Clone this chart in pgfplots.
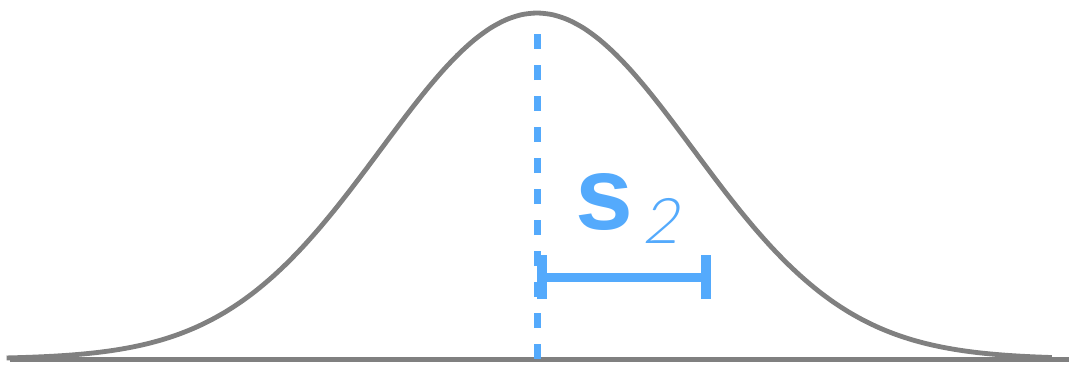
\documentclass[border=0pt]{standalone}
\usepackage{fontspec}
\setmainfont{Liberation Sans}
\newfontfamily\lightfont{Lato Light}[FakeSlant=0.18]
\usepackage{pgfplots}
\pgfplotsset{compat=1.18}
\definecolor{cblue}{RGB}{84,170,252}
\definecolor{cgray}{RGB}{128,128,128}
\begin{document}
\begin{tikzpicture}
\begin{axis}[
  name=ax,
  scale only axis, width=1069pt, height=364pt,
  xmin=-3.442, xmax=3.410, ymin=-0.01445, ymax=1.0376,
  hide axis, clip=false,
]
% baseline
\addplot[cgray, line width=5pt] coordinates {(-3.38,0) (3.41,0)};
% normal curve (sigma units)
\addplot[cgray, line width=4.8pt, smooth] coordinates {
(-3.4,0.00309) (-3.3,0.00432) (-3.2,0.00598) (-3.1,0.00819) (-3.0,0.01111)
(-2.9,0.01492) (-2.8,0.01984) (-2.7,0.02612) (-2.6,0.03405) (-2.5,0.04394)
(-2.4,0.05613) (-2.3,0.07100) (-2.2,0.08892) (-2.1,0.11025) (-2.0,0.13534)
(-1.9,0.16448) (-1.8,0.19790) (-1.7,0.23575) (-1.6,0.27804) (-1.5,0.32465)
(-1.4,0.37531) (-1.3,0.42956) (-1.2,0.48675) (-1.1,0.54607) (-1.0,0.60653)
(-0.9,0.66698) (-0.8,0.72615) (-0.7,0.78270) (-0.6,0.83527) (-0.5,0.88250)
(-0.4,0.92312) (-0.3,0.95600) (-0.2,0.98020) (-0.1,0.99501) (0,1)
(0.1,0.99501) (0.2,0.98020) (0.3,0.95600) (0.4,0.92312) (0.5,0.88250)
(0.6,0.83527) (0.7,0.78270) (0.8,0.72615) (0.9,0.66698) (1.0,0.60653)
(1.1,0.54607) (1.2,0.48675) (1.3,0.42956) (1.4,0.37531) (1.5,0.32465)
(1.6,0.27804) (1.7,0.23575) (1.8,0.19790) (1.9,0.16448) (2.0,0.13534)
(2.1,0.11025) (2.2,0.08892) (2.3,0.07100) (2.4,0.05613) (2.5,0.04394)
(2.6,0.03405) (2.7,0.02612) (2.8,0.01984) (2.9,0.01492) (3.0,0.01111)
(3.1,0.00819) (3.2,0.00598) (3.3,0.00432)
};
% dashed mean line
\addplot[cblue, line width=7pt, dash pattern=on 15pt off 16pt] coordinates {(0,0) (0,0.945)};
% error bar
\addplot[cblue, line width=9pt] coordinates {(0,0.237) (1.083,0.237)};
\addplot[cblue, line width=10pt] coordinates {(0.032,0.173) (0.032,0.301)};
\addplot[cblue, line width=10pt] coordinates {(1.083,0.173) (1.083,0.301)};
% label
\node[anchor=base, inner sep=0pt, text=cblue, font=\fontsize{104}{104}\selectfont\bfseries] at (axis cs:0.429,0.373) {s};
\node[anchor=base, inner sep=0pt, text=cblue, font=\fontsize{63}{63}\selectfont\lightfont] at (axis cs:0.795,0.335) {2};
\end{axis}
\pgfresetboundingbox
\path[use as bounding box] (ax.south west) rectangle (ax.north east);
\end{tikzpicture}
\end{document}
